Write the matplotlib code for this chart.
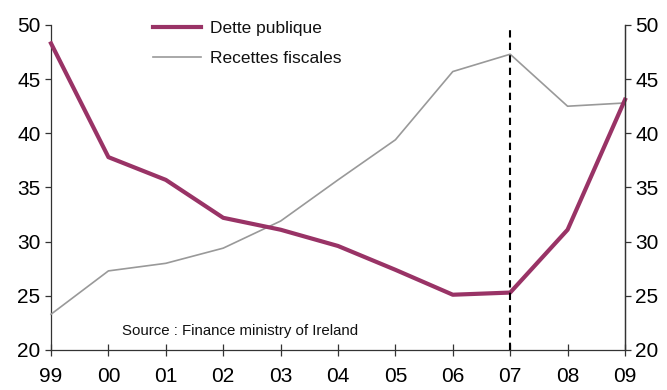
import matplotlib
matplotlib.use("Agg")
import matplotlib.pyplot as plt

plt.rcParams['font.family'] = ['Liberation Sans', 'DejaVu Sans']

# data
years = ['99', '00', '01', '02', '03', '04', '05', '06', '07', '08', '09']
dette_publique = [48.3, 37.8, 35.7, 32.2, 31.1, 29.6, 27.4, 25.1, 25.3, 31.1, 43.1]
recettes_fiscales = [23.3, 27.3, 28.0, 29.4, 31.9, 35.7, 39.4, 45.7, 47.3, 42.5, 42.8]
y_ticks = [20, 25, 30, 35, 40, 45, 50]
marker_year = '07'

fig = plt.figure(figsize=(6.67, 3.9), dpi=100)
ax = fig.add_axes([0.0765, 0.1026, 0.8605, 0.8334])

x = list(range(len(years)))
ax.plot(x, dette_publique, color='#993366', lw=3.0, label='Dette publique',
        solid_joinstyle='round', clip_on=False, zorder=4)
ax.plot(x, recettes_fiscales, color='#999999', lw=1.2, label='Recettes fiscales',
        clip_on=False, zorder=3)
ax.axvline(years.index(marker_year), color='black', lw=1.5, ls=(0, (3.5, 2.5)), zorder=5)

ax.set_xlim(0, len(years) - 1)
ax.set_ylim(20, 50)
ax.set_xticks(x)
ax.set_xticklabels(years)
ax.set_yticks(y_ticks)

ax.spines['top'].set_visible(False)
for s in ['left', 'bottom', 'right']:
    ax.spines[s].set_color('#333333')
    ax.spines[s].set_linewidth(0.9)

ax.tick_params(axis='x', direction='inout', length=8, width=0.9, color='#333333',
               labelsize=15, pad=8)
ax.tick_params(axis='y', direction='out', length=4.5, width=0.9, color='#333333',
               labelsize=15, pad=3)

# right hand axis repeats the same scale
ax2 = ax.twinx()
ax2.set_ylim(20, 50)
ax2.set_yticks(y_ticks)
ax2.tick_params(axis='y', direction='out', length=4.5, width=0.9, color='#333333',
                labelsize=15, pad=3)
for s in ['top', 'left', 'bottom']:
    ax2.spines[s].set_visible(False)
ax2.spines['right'].set_color('#333333')
ax2.spines['right'].set_linewidth(0.9)

leg = ax.legend(loc='upper left', bbox_to_anchor=(0.15, 1.06), frameon=False,
                fontsize=12.5, handlelength=2.8, handletextpad=0.5, labelspacing=0.85)
for t in leg.get_texts():
    t.set_color('#111111')

ax.text(0.123, 0.057, 'Source : Finance ministry of Ireland', transform=ax.transAxes,
        fontsize=10.8, color='#111111', ha='left', va='center')

fig.savefig('out.png', dpi=100)
